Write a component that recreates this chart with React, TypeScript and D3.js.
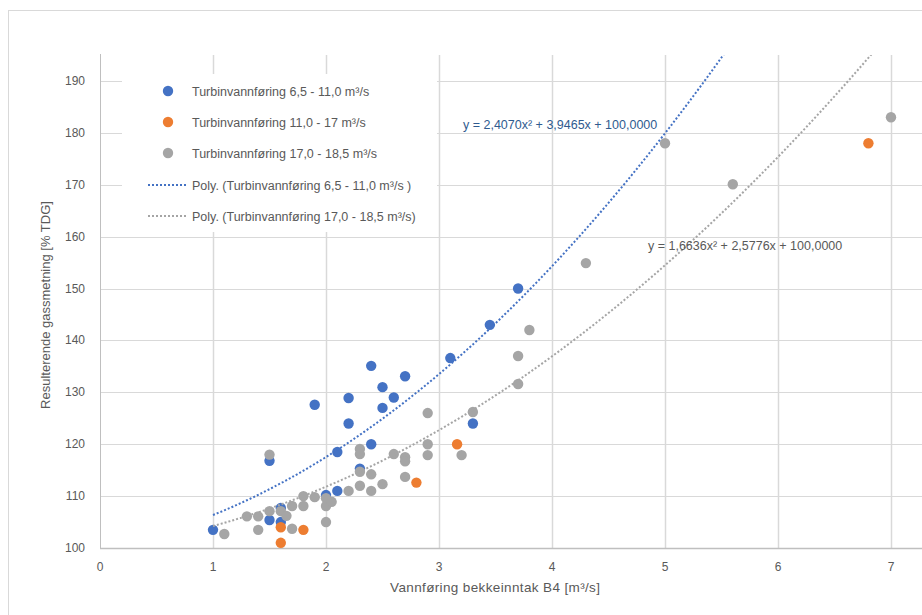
import React from "react";
import * as d3 from "d3";

// series: [vannføring B4, % TDG]
const series1: [number, number][] = [
  [1.0, 103.5], [1.5, 116.8], [1.5, 105.4], [1.6, 107.7], [1.6, 105.0],
  [1.9, 127.6], [2.0, 110.2], [2.1, 118.5], [2.1, 111.0], [2.2, 128.9],
  [2.2, 124.0], [2.3, 115.3], [2.4, 135.1], [2.4, 120.0], [2.5, 131.0],
  [2.5, 127.0], [2.6, 129.0], [2.7, 133.1], [3.1, 136.6], [3.3, 124.0],
  [3.45, 143.0], [3.7, 150.0],
];
const series2: [number, number][] = [
  [1.6, 104.0], [1.6, 101.0], [1.8, 103.5], [2.8, 112.6], [3.16, 120.0], [6.8, 178.0],
];
const series3: [number, number][] = [
  [1.1, 102.7], [1.3, 106.1], [1.4, 106.1], [1.4, 103.5], [1.5, 118.0],
  [1.5, 107.1], [1.6, 107.1], [1.65, 106.2], [1.7, 108.1], [1.7, 103.7],
  [1.8, 110.0], [1.8, 108.1], [1.9, 109.8], [2.0, 109.6], [2.0, 108.1],
  [2.0, 105.0], [2.05, 108.9], [2.2, 111.0], [2.3, 119.1], [2.3, 118.1],
  [2.3, 114.7], [2.3, 112.0], [2.4, 114.2], [2.4, 111.0], [2.5, 112.3],
  [2.6, 118.1], [2.7, 117.5], [2.7, 116.7], [2.7, 113.7], [2.9, 126.0],
  [2.9, 120.0], [2.9, 117.9], [3.2, 117.9], [3.3, 126.2], [3.7, 137.0],
  [3.7, 131.6], [3.8, 142.0], [4.3, 154.9], [5.0, 178.0], [5.6, 170.1],
  [7.0, 183.0],
];

// trendline coefficients as printed on the chart [a, b, c]
const trend1 = [2.407, 3.9465, 100];
const trend3 = [1.6636, 2.5776, 100];

const seriesNames = [
  "Turbinvannføring 6,5 - 11,0 m³/s",
  "Turbinvannføring 11,0 - 17 m³/s",
  "Turbinvannføring 17,0 - 18,5 m³/s",
  "Poly. (Turbinvannføring 6,5 - 11,0 m³/s )",
  "Poly. (Turbinvannføring 17,0 - 18,5 m³/s)",
];
const xTicks = [0, 1, 2, 3, 4, 5, 6, 7];
const yTicks = [100, 110, 120, 130, 140, 150, 160, 170, 180, 190];

const BLUE = "#4472C4";
const ORANGE = "#ED7D31";
const GRAY = "#A5A5A5";
const TXT = "#595959";
const FONT = "'Liberation Sans', Arial, sans-serif";

const W = 922;
const H = 615;

export default function App() {
  const x = d3.scaleLinear().domain([0, 8]).range([100, 1004]);
  const y = d3.scaleLinear().domain([100, 195]).range([548, 55]);

  const poly = (c: number[]) => (v: number) => c[0] * v * v + c[1] * v + c[2];
  const xs = d3.range(1, 7.001, 0.02);
  const p1 = poly(trend1);
  const p3 = poly(trend3);
  const line1 = d3.line<number>().x((v) => x(v)).y((v) => y(p1(v)))(xs);
  const line3 = d3.line<number>().x((v) => x(v)).y((v) => y(p3(v)))(xs);

  const legendRows = [91, 122, 153, 185, 216];

  return (
    <div style={{ position: "fixed", left: 0, top: 0 }}>
      <svg width={W} height={H} style={{ display: "block", background: "#fff" }} fontFamily={FONT}>
        <defs>
          <clipPath id="plot">
            <rect x={95} y={55} width={835} height={499} />
          </clipPath>
        </defs>
        {/* chart frame */}
        <rect x={8.5} y={10.5} width={1000} height={700} fill="#fff" stroke="#d9d9d9" />

        {/* gridlines */}
        {yTicks.map((t) => (
          <line key={"gy" + t} x1={100} x2={W} y1={Math.round(y(t)) + 0.5} y2={Math.round(y(t)) + 0.5} stroke="#d9d9d9" />
        ))}
        {xTicks.slice(1).map((t) => (
          <line key={"gx" + t} x1={Math.round(x(t)) + 0.5} x2={Math.round(x(t)) + 0.5} y1={55} y2={548} stroke="#d9d9d9" strokeWidth={1.5} />
        ))}
        {/* axes */}
        <line x1={100.5} x2={100.5} y1={54} y2={548} stroke="#bfbfbf" />
        <line x1={100} x2={W} y1={548.5} y2={548.5} stroke="#bfbfbf" strokeWidth={1.5} />

        {/* tick labels */}
        {yTicks.map((t) => (
          <text key={"ty" + t} x={85} y={y(t) + 4} textAnchor="end" fontSize={12} fill={TXT}>
            {t}
          </text>
        ))}
        {xTicks.map((t) => (
          <text key={"tx" + t} x={x(t)} y={571} textAnchor="middle" fontSize={12} fill={TXT}>
            {t}
          </text>
        ))}

        {/* axis titles */}
        <text x={495} y={592} textAnchor="middle" fontSize={13.5} fill={TXT} textLength={210}>
          Vannføring bekkeinntak B4 [m³/s]
        </text>
        <text transform={`translate(50,305) rotate(-90)`} textAnchor="middle" fontSize={13} fill={TXT}>
          Resulterende gassmetning [% TDG]
        </text>

        {/* legend background */}
        <rect x={122} y={74} width={315} height={158} fill="#fff" />

        <g clipPath="url(#plot)">
          {series1.map((d, i) => (
            <circle key={"s1" + i} cx={x(d[0])} cy={y(d[1])} r={5.2} fill={BLUE} />
          ))}
          {series2.map((d, i) => (
            <circle key={"s2" + i} cx={x(d[0])} cy={y(d[1])} r={5.2} fill={ORANGE} />
          ))}
          {series3.map((d, i) => (
            <circle key={"s3" + i} cx={x(d[0])} cy={y(d[1])} r={5.2} fill={GRAY} />
          ))}
          <path d={line1 || ""} fill="none" stroke={BLUE} strokeWidth={2} strokeDasharray="2,2" />
          <path d={line3 || ""} fill="none" stroke={GRAY} strokeWidth={2} strokeDasharray="2,2" />
        </g>

        {/* trend equations */}
        <text x={463} y={129} fontSize={12.5} fill="#2f5b8f">
          y = 2,4070x² + 3,9465x + 100,0000
        </text>
        <text x={648} y={250} fontSize={12.5} fill={TXT}>
          y = 1,6636x² + 2,5776x + 100,0000
        </text>

        {/* legend */}
        {[BLUE, ORANGE, GRAY].map((c, i) => (
          <circle key={"lm" + i} cx={168} cy={legendRows[i]} r={5.2} fill={c} />
        ))}
        {[BLUE, GRAY].map((c, i) => (
          <line key={"ll" + i} x1={148} x2={186} y1={legendRows[3 + i]} y2={legendRows[3 + i]} stroke={c} strokeWidth={2} strokeDasharray="2,2" />
        ))}
        {seriesNames.map((n, i) => (
          <text key={"lt" + i} x={192} y={legendRows[i] + 4.5} fontSize={12.5} fill={TXT}>
            {n}
          </text>
        ))}
      </svg>
    </div>
  );
}
